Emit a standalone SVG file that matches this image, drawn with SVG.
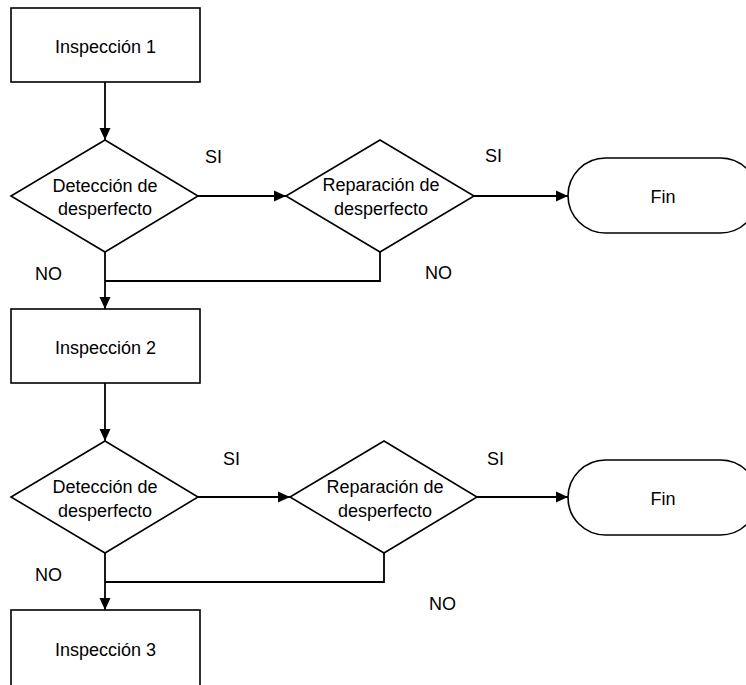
<svg xmlns="http://www.w3.org/2000/svg" width="746" height="685" viewBox="0 0 746 685">
<style>
.s{fill:#fff;stroke:#000;stroke-width:1.6}
.c{fill:none;stroke:#000;stroke-width:1.8}
text{font-family:"Liberation Sans",Arial,sans-serif;font-size:18px;fill:#000}
.m{text-anchor:middle}
</style>
<defs>
<marker id="a" markerUnits="userSpaceOnUse" markerWidth="14" markerHeight="14" refX="13" refY="7" orient="auto">
<path d="M1,1.5 L13,7 L1,12.5 Z" fill="#000"/>
</marker>
</defs>
<rect width="746" height="685" fill="#fff"/>
<g id="connectors">
<path class="c" d="M105,82 V140" marker-end="url(#a)"/>
<path class="c" d="M198,196 H286" marker-end="url(#a)"/>
<path class="c" d="M474,196 H568" marker-end="url(#a)"/>
<path class="c" d="M105,252 V309" marker-end="url(#a)"/>
<path class="c" d="M380,252 V281 H105"/>
<path class="c" d="M105,383 V441" marker-end="url(#a)"/>
<path class="c" d="M198,497 H290" marker-end="url(#a)"/>
<path class="c" d="M477,497 H568" marker-end="url(#a)"/>
<path class="c" d="M105,553 V610" marker-end="url(#a)"/>
<path class="c" d="M384,553 V582 H105"/>
</g>
<g id="insp1"><rect class="s" x="11" y="8" width="189" height="74"/><text class="m" x="105.5" y="53">Inspección 1</text></g>
<g id="det1"><polygon class="s" points="105,140 198,196 105,252 11,196"/><text class="m" x="105" y="192">Detección de</text><text class="m" x="105" y="215">desperfecto</text></g>
<g id="rep1"><polygon class="s" points="380,140 474,196 380,252 286,196"/><text class="m" x="381" y="191">Reparación de</text><text class="m" x="381" y="215">desperfecto</text></g>
<g id="fin1"><rect class="s" x="568" y="158" width="190" height="75" rx="37.5"/><text class="m" x="663" y="203">Fin</text></g>
<g id="insp2"><rect class="s" x="11" y="309" width="189" height="74"/><text class="m" x="105.5" y="354">Inspección 2</text></g>
<g id="det2"><polygon class="s" points="105,441 198,497 105,553 11,497"/><text class="m" x="105" y="493">Detección de</text><text class="m" x="105" y="517">desperfecto</text></g>
<g id="rep2"><polygon class="s" points="384,441 477,497 384,553 290,497"/><text class="m" x="385" y="493">Reparación de</text><text class="m" x="385" y="517">desperfecto</text></g>
<g id="fin2"><rect class="s" x="568" y="460" width="190" height="75" rx="37.5"/><text class="m" x="663" y="505">Fin</text></g>
<g id="insp3"><rect class="s" x="11" y="610" width="189" height="78"/><text class="m" x="105.5" y="656">Inspección 3</text></g>
<g id="labels">
<text x="205" y="163">SI</text>
<text x="485" y="162">SI</text>
<text x="35" y="280">NO</text>
<text x="425" y="279">NO</text>
<text x="223" y="465">SI</text>
<text x="487" y="465">SI</text>
<text x="35" y="581">NO</text>
<text x="429" y="610">NO</text>
</g>
</svg>
